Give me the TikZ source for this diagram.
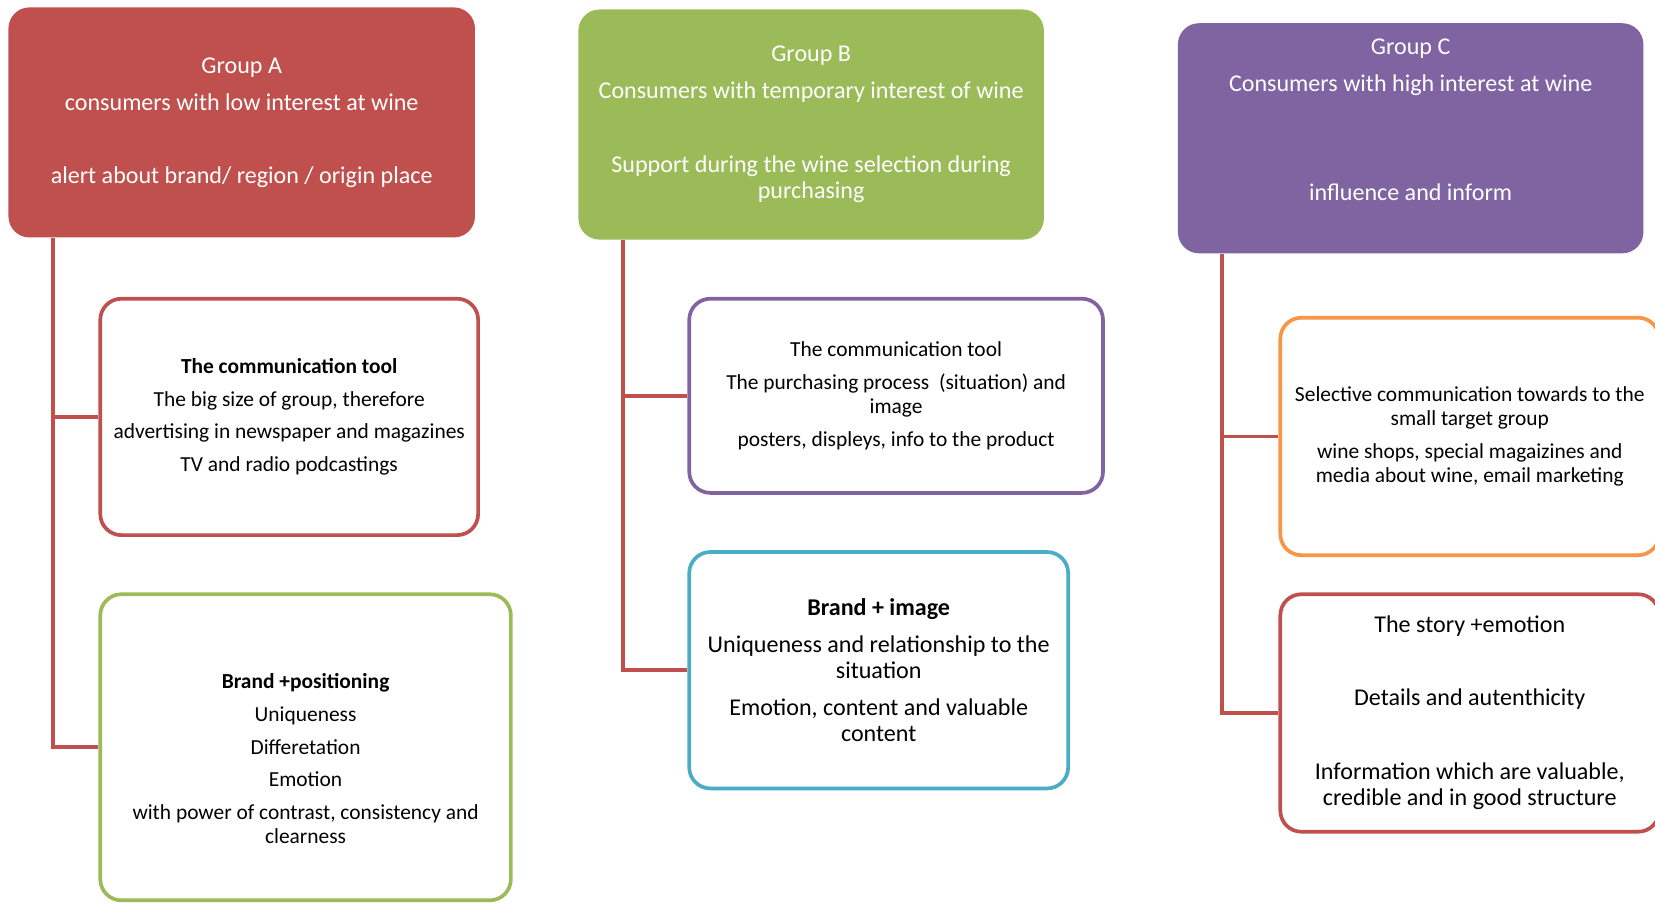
\documentclass[tikz,border=0pt]{standalone}
\usepackage{fontspec}
\setmainfont{Carlito}
\definecolor{accred}{HTML}{C0504D}
\definecolor{accgreen}{HTML}{9BBB59}
\definecolor{accpurple}{HTML}{8064A2}
\definecolor{acccyan}{HTML}{4BACC6}
\definecolor{accorange}{HTML}{F79646}
\begin{document}
\begin{tikzpicture}[x=1pt,y=-1pt,
  groupbox/.style={rounded corners=20pt, draw=none, text=white, align=center,
    inner sep=0pt, font=\fontsize{22.8}{24.5}\selectfont},
  itembox/.style={rounded corners=20pt, draw, line width=3.5pt, fill=white,
    align=center, inner sep=0pt, text=black},
  boxtext/.style={align=center, inner sep=0pt, text=black},
  smalltext/.style={font=\fontsize{20.3}{22.5}\selectfont},
  midtext/.style={font=\fontsize{20.3}{23}\selectfont},
  bigtext/.style={font=\fontsize{22.8}{24.5}\selectfont},
  branch/.style={draw=accred, line width=3.5pt}]
\useasboundingbox (0,0) rectangle (1568,856);

% group headers
\node[groupbox, fill=accred, minimum width=442pt, minimum height=218pt] (A) at (229,116)
  {Group A\\[10.5pt]consumers with low interest at wine\\[44.5pt]alert about brand/ region / origin place};
\node[groupbox, fill=accgreen, minimum width=441pt, minimum height=218pt] (B) at (768.5,118)
  {Group B\\[10.5pt]Consumers with temporary interest of wine\\[45.5pt]Support during the wine selection during\\purchasing};
\node[groupbox, fill=accpurple, minimum width=441pt, minimum height=218pt] (C) at (1336.5,131)
  {Group C\\[10.5pt]Consumers with high interest at wine\\[79.5pt]influence and inform\\[10.5pt]\mbox{}};

% group A items
\node[itembox, draw=accred, smalltext, minimum width=358pt, minimum height=224pt] (A1) at (274,395)
  {\textbf{The communication tool}\\[8.5pt]The big size of group, therefore\\[8.5pt]advertising in newspaper and magazines\\[8.5pt]TV and radio podcastings};
\node[itembox, draw=accgreen, minimum width=389pt, minimum height=290pt] (A2) at (289.5,708) {};
\node[boxtext, midtext] (A2t) at (289.5,719)
  {\textbf{Brand +positioning}\\[8pt]Uniqueness\\[8pt]Differetation\\[8pt]Emotion\\[8pt]with power of contrast, consistency and\\clearness};

% group B items
\node[itembox, draw=accpurple, smalltext, minimum width=392pt, minimum height=184pt] (B1) at (849,375)
  {The communication tool\\[9pt]The purchasing process\ \ (situation) and\\image\\[9pt]posters, displeys, info to the product};
\node[itembox, draw=acccyan, bigtext, minimum width=359pt, minimum height=224pt] (B2) at (832.5,635)
  {\textbf{Brand + image}\\[10.5pt]Uniqueness and relationship to the\\situation\\[10.5pt]Emotion, content and valuable\\content};

% group C items
\node[itembox, draw=accorange, smalltext, minimum width=359pt, minimum height=225pt] (C1) at (1392.5,413.5)
  {Selective communication towards to the\\small target group\\[8.5pt]wine shops, special magaizines and\\media about wine, email marketing};
\node[itembox, draw=accred, bigtext, minimum width=359pt, minimum height=225pt] (C2) at (1392.5,675.5)
  {The story +emotion\\[44.5pt]Details and autenthicity\\[45.5pt]Information which are valuable,\\credible and in good structure};

% connectors
\coordinate (ax) at (50,0);
\coordinate (bx) at (590,0);
\coordinate (cx) at (1158,0);
\draw[branch] (A.south -| ax) |- (A2.west);
\draw[branch] (A1.west -| ax) -- (A1.west);
\draw[branch] (B.south -| bx) |- (B2.west);
\draw[branch] (B1.west -| bx) -- (B1.west);
\draw[branch] (C.south -| cx) |- (C2.west);
\draw[branch] (C1.west -| cx) -- (C1.west);
\end{tikzpicture}
\end{document}
